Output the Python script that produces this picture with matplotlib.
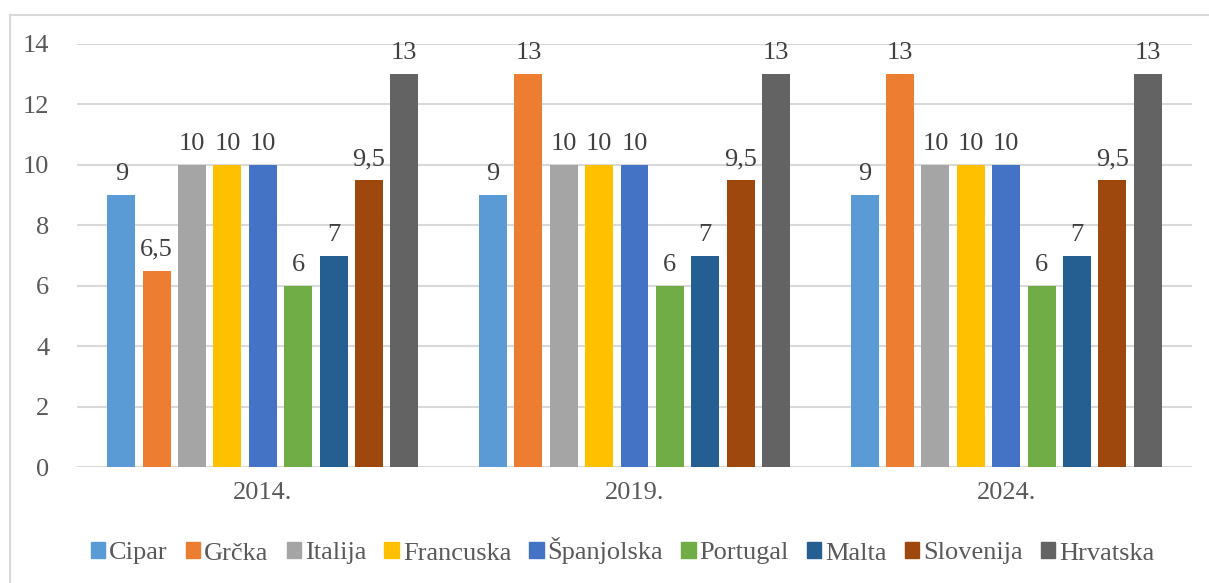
import matplotlib
matplotlib.use("Agg")
import matplotlib.pyplot as plt
from matplotlib.lines import Line2D
import numpy as np

years = ["2014.", "2019.", "2024."]
countries = ["Cipar", "Grčka", "Italija", "Francuska", "Španjolska",
             "Portugal", "Malta", "Slovenija", "Hrvatska"]
cipar = [9, 9, 9]
grcka = [6.5, 13, 13]
italija = [10, 10, 10]
francuska = [10, 10, 10]
spanjolska = [10, 10, 10]
portugal = [6, 6, 6]
malta = [7, 7, 7]
slovenija = [9.5, 9.5, 9.5]
hrvatska = [13, 13, 13]
series = [cipar, grcka, italija, francuska, spanjolska, portugal, malta, slovenija, hrvatska]
colors = ["#5B9BD5", "#ED7D31", "#A5A5A5", "#FFC000", "#4472C4",
          "#70AD47", "#255E91", "#9E480E", "#636363"]

plt.rcParams['font.family'] = ['Liberation Serif', 'DejaVu Serif']
txt = "#595959"

fig = plt.figure(figsize=(12.09, 5.83), dpi=100)
ax = fig.add_axes([77/1209, 1-467/583, (1192-77)/1209, (467-44)/583])

x = np.arange(len(years))
slot = 35.4/372
width = 28/372
n = len(series)
for i, (vals, c, name) in enumerate(zip(series, colors, countries)):
    pos = x + (i - (n-1)/2) * slot
    bars = ax.bar(pos, vals, width=width, color=c, label=name, zorder=3)
    for b, v in zip(bars, vals):
        lab = (f"{v:g}").replace(".", ",")
        ax.annotate(lab, (b.get_x()+b.get_width()/2, v), xytext=(0, 7),
                    textcoords="offset points", ha="center", va="bottom",
                    fontsize=19, color="#404040")

ax.set_xlim(-0.5, 2.5)
ax.set_ylim(0, 14)
ax.set_yticks(range(0, 15, 2))
ax.set_xticks(x)
ax.set_xticklabels(years)
ax.yaxis.grid(True, color="#D9D9D9", linewidth=1.5, zorder=0)
for s in ax.spines.values():
    s.set_visible(False)
ax.tick_params(axis='both', length=0, labelcolor=txt, labelsize=19)
ax.tick_params(axis='y', pad=20)
ax.tick_params(axis='x', pad=11)

handles = [plt.Rectangle((0, 0), 1, 1, color=c) for c in colors]
leg = fig.legend(handles, countries, loc="center", bbox_to_anchor=(0.515, 1-551/583),
                 ncol=9, frameon=False, fontsize=19, handlelength=0.55, handleheight=0.55,
                 handletextpad=0.15, columnspacing=0.68, labelcolor=txt)

fig.add_artist(Line2D([10/1209, 10/1209], [0, 1-15/583], color="#D9D9D9", linewidth=1.5))
fig.add_artist(Line2D([10/1209, 1], [1-15/583, 1-15/583], color="#D9D9D9", linewidth=1.5))

fig.savefig("out.png", dpi=100)
